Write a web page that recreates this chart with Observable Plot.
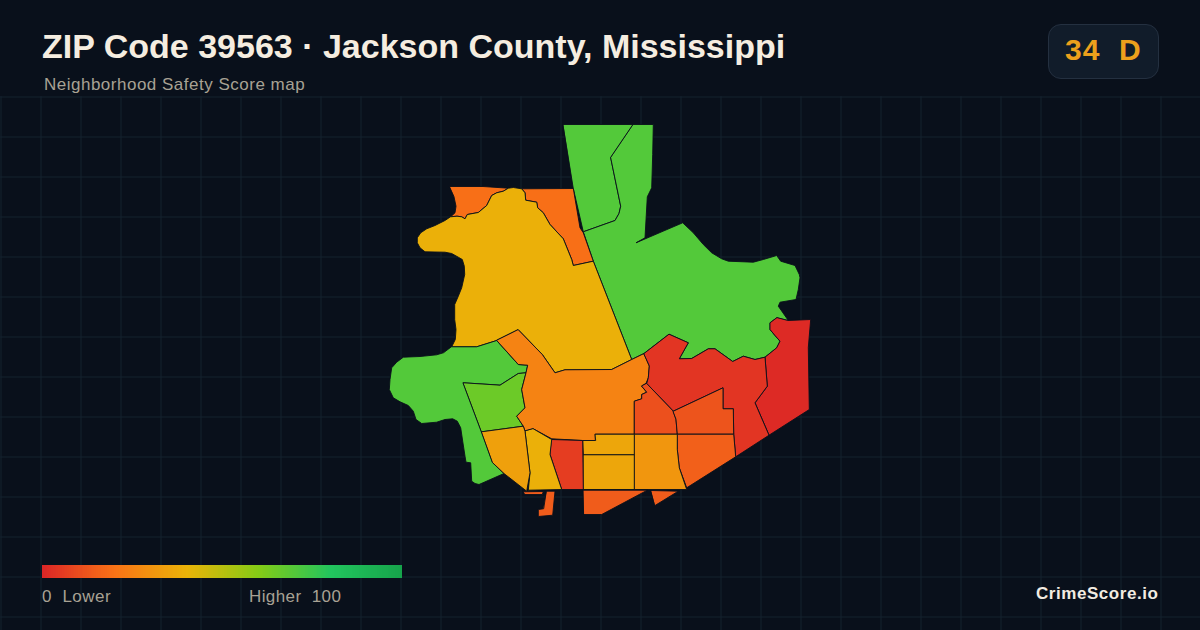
<!DOCTYPE html>
<html>
<head>
<meta charset="utf-8">
<script src="https://cdn.jsdelivr.net/npm/d3@7"></script>
<script src="https://cdn.jsdelivr.net/npm/@observablehq/plot@0.6"></script>
<style>
html,body{margin:0;padding:0;background:#09101b;width:1200px;height:630px;overflow:hidden;font-family:"Liberation Sans",Arial,sans-serif}
#page{position:relative;width:1200px;height:630px}
#head{height:96px;position:relative}
#map svg,#ramp svg{display:block;background:transparent}
.t{position:absolute;white-space:pre;line-height:1}
#title{left:42px;top:29px;font-size:34px;font-weight:700;color:#f5ede0}
#sub{left:44px;top:76px;font-size:17px;letter-spacing:.5px;color:#a8a294}
#badge{position:absolute;left:1048px;top:24px;width:109px;height:53px;border-radius:13px;background:#111c2a;border:1px solid #243040}
#score{left:1065px;top:35px;font-size:30px;font-weight:700;letter-spacing:1px;color:#eda01c}
#ramp{position:absolute;left:42px;top:565px;width:360px;height:13px}
#lo{left:42px;top:588px;font-size:17px;letter-spacing:.5px;color:#a8a294}
#hi{left:249px;top:588px;font-size:17px;letter-spacing:.4px;color:#a8a294}
#brand{left:1036px;top:585px;font-size:17px;font-weight:700;letter-spacing:.55px;color:#f2ece2}
</style>
</head>
<body>
<div id="page">
  <div id="head">
    <div class="t" id="title">ZIP Code 39563 · Jackson County, Mississippi</div>
    <div class="t" id="sub">Neighborhood Safety Score map</div>
    <div id="badge"></div>
    <div class="t" id="score">34  D</div>
  </div>
  <div id="map"></div>
  <div id="ramp"></div>
  <div class="t" id="lo">0  Lower</div>
  <div class="t" id="hi">Higher  100</div>
  <div class="t" id="brand">CrimeScore.io</div>
</div>
<script>
// colour ramp
const rampStops = [0, 20, 40, 60, 80, 100];
const rampColors = ["#dc2626", "#f97316", "#eab308", "#84cc16", "#22c55e", "#16a34a"];

// neighbourhood scores
const tractScores = {
  northStrip: 70, northEast: 70, northWest: 19, bigYellow: 39, westGreen: 70, lime: 65,
  centralOrange: 25, eastRed: 1, midRed: 4, redA: 11, redB: 12, orangeC: 15, amberD: 31,
  amberE: 36, amberF: 36, redG: 6, yellowH: 39, amberI: 34, stripJ: 14, pierK: 14, shoreL: 14, shoreM: 14
};

// outlines in map units
const northStrip = [[563.3,125],[633.3,125],[610.7,158.3],[620.7,206.7],[619,214],[615,221],[583.3,232.3],[573.3,189]];
const northEast = [[633.3,125],[653.3,125],[652.7,155],[651.7,188.3],[647.3,197.3],[645,238.3],[636,243.3],[682.7,223.3],[693.3,233.3],[703.3,245],[711.7,253.3],[721.7,259.3],[728.3,261.7],[753.3,262.7],[763.3,260],[776.7,256],[780.7,261.7],[795,266],[799.3,275],[800,278.3],[798.3,290],[796,300],[780,302.7],[778.3,306.7],[788.3,321],[776.7,318.3],[770,323.3],[770,330],[775,336],[780,341.7],[776.7,348.3],[765,357.7],[755,360],[743.3,356.7],[732.7,362],[715,349.3],[708.3,349.3],[691.7,359],[679.3,359.3],[688.3,343.3],[669,334.7],[644,354],[631.7,360],[593.3,261.7],[583.3,232.3],[615,221],[619,214],[620.7,206.7],[610.7,158.3]];
const northWest = [[449.7,187],[483,187],[508.3,188.7],[523,189.3],[573.3,189],[580,228.3],[583.3,233.3],[593.3,261.7],[573.3,266],[571.7,260],[563.3,239.3],[550,225],[543.3,213.3],[537.7,208.3],[536.7,202.7],[525.7,200.7],[525,193.3],[521.7,189.3],[513.3,188],[508.3,188.7],[503.3,191.7],[496.7,193.3],[491.7,196],[486.7,206],[478.3,213],[467.3,215],[465,219.3],[461.7,217.3],[457,216.7],[450.7,217.3],[455,213.3],[456,206.7],[454,197.3]];
const bigYellow = [[450.7,217.3],[457,216.7],[461.7,217.3],[465,219.3],[467.3,215],[478.3,213],[486.7,206],[491.7,196],[496.7,193.3],[503.3,191.7],[508.3,188.7],[513.3,188],[521.7,189.3],[525,193.3],[525.7,200.7],[536.7,202.7],[537.7,208.3],[543.3,213.3],[550,225],[563.3,239.3],[571.7,260],[573.3,266],[593.3,261.7],[631.7,360],[611.7,370],[565,370.3],[555,373.3],[542.3,355],[518.3,330.3],[496.7,341],[476.7,347.3],[451.7,347.3],[455.3,340],[456,330],[454.7,320],[454.7,305],[458.3,296.7],[461.7,288.3],[464.7,275],[464.3,266.7],[462.3,260],[458.3,257.7],[451.7,254],[445,252.7],[425,252.3],[420,248.3],[417.3,243.3],[417.3,238.3],[420.7,233.3],[426.7,229.3],[435,226],[445,221]];
const westGreen = [[451.7,347.3],[476.7,347.3],[496.7,341],[518.3,365],[527.7,365.7],[526,373.3],[518.3,374],[500,385.7],[490,385],[463.3,383.3],[481.7,432.3],[492.7,463.3],[504,474],[479,485],[475,484],[471.7,481.7],[470.7,463.3],[466,462.7],[465,456.7],[462.7,441.7],[460.7,428.3],[457.3,421.7],[452.7,419.3],[445,420],[436.7,422.7],[421.7,424],[416,420],[413.3,411.7],[408.3,406],[400,402.3],[393.3,398.3],[389.3,390],[390,380],[391.7,368.3],[396.7,362.7],[403.3,357.7],[420,357],[436.7,355.3],[443.3,353.3]];
const lime = [[463.3,383.3],[490,385],[500,385.7],[518.3,374],[526,373.3],[521.7,390],[525,408.3],[516.7,416.7],[523.3,426.7],[481.7,432.3]];
const centralOrange = [[518.3,330.3],[542.3,355],[555,373.3],[565,370.3],[611.7,370],[631.7,360],[644,354],[649.3,366.7],[648.3,378.3],[646,384],[641.7,386.7],[646.7,392.7],[641.7,395],[641.7,399.3],[634.3,401.7],[634.3,434.7],[595.3,434.7],[595.3,441],[582.7,441],[551.7,439.3],[533.3,429.3],[525,431.7],[523.3,426.7],[516.7,416.7],[525,408.3],[521.7,390],[526,373.3],[527.7,365.7],[518.3,365],[496.7,341]];
const eastRed = [[788.3,321],[810.7,320],[808.3,348],[809.3,410],[769,435.7],[755,403.3],[767.3,386.7],[765,357.7],[776.7,348.3],[780,341.7],[775,336],[770,330],[770,323.3],[776.7,318.3]];
const midRed = [[644,354],[669,334.7],[688.3,343.3],[679.3,359.3],[691.7,359],[708.3,349.3],[715,349.3],[732.7,362],[743.3,356.7],[755,360],[765,357.7],[767.3,386.7],[755,403.3],[769,435.7],[735.7,457.3],[733.7,434.7],[733.3,409.3],[723,409.3],[723,388.3],[673.3,411.7],[646.7,384],[648.3,378.3],[649.3,366.7]];
const redA = [[646.7,384],[673.3,411.7],[676,420],[677.3,434.7],[634.3,434.7],[634.3,401.7],[641.7,399.3],[641.7,395],[646.7,392.7],[641.7,386.7]];
const redB = [[673.3,411.7],[723,388.3],[723,409.3],[733.3,409.3],[733.7,434.7],[677.3,434.7],[676,420]];
const orangeC = [[677.3,434.7],[733.7,434.7],[735.7,457.3],[686.7,488.3],[679.3,468.3],[677.3,450]];
const amberD = [[634.3,434.7],[677.3,434.7],[677.3,450],[679.3,468.3],[686.7,490],[634.3,490]];
const amberE = [[595.3,434.7],[634.3,434.7],[634.3,455.3],[583.3,455.3],[582.7,441],[595.3,441]];
const amberF = [[583.3,455.3],[634.3,455.3],[634.3,490],[583.3,490]];
const redG = [[551.7,440],[582.7,441],[583.3,490],[561.7,490],[550,455]];
const yellowH = [[533.3,429.3],[551.7,440],[550,455],[561.7,490],[528.3,490.7],[530,473.3],[525,431.7]];
const amberI = [[481.7,432.3],[523.3,426.7],[525,431.7],[530,473.3],[526.7,491.7],[504,474],[492.7,463.3]];
const stripJ = [[523.3,492.3],[543.3,492],[542.3,495],[525,495]];
const pierK = [[546.7,491.7],[555,491.7],[552.7,515.7],[538.3,517],[538.3,510],[543.3,509.3]];
const shoreL = [[583.3,490.7],[647.3,490.7],[601.7,515],[584,515]];
const shoreM = [[651,491],[678.3,491.7],[655,506]];

// background graticule
const gridX = d3.range(0, 1201, 40);
const gridY = d3.range(96, 630, 40);

const outlines = {northStrip,northEast,northWest,bigYellow,westGreen,lime,centralOrange,eastRed,midRed,redA,redB,orangeC,amberD,amberE,amberF,redG,yellowH,amberI,stripJ,pierK,shoreL,shoreM};
const features = Object.keys(outlines).map(name => ({
  type: "Feature",
  properties: {name, score: tractScores[name]},
  geometry: {type: "Polygon", coordinates: [[...outlines[name], outlines[name][0]]]}
}));
const grid = {type: "MultiLineString", coordinates: [
  ...gridX.map(x => [[x + .5, 96], [x + .5, 630]]),
  ...gridY.map(y => [[0, y + .5], [1200, y + .5]])
]};

const colorScale = {type: "linear", domain: rampStops, range: rampColors, interpolate: "rgb"};

document.getElementById("map").append(Plot.plot({
  width: 1200, height: 534, margin: 0,
  projection: d3.geoIdentity().translate([0, -96]),
  color: colorScale,
  marks: [
    Plot.geo(grid, {stroke: "#15232f", strokeWidth: 1, fill: "none"}),
    Plot.geo(features, {fill: d => d.properties.score, stroke: "#09101b", strokeWidth: 0.9, strokeLinejoin: "round", dx: -0.5, dy: -1})
  ]
}));

const rampSteps = d3.range(0, 100, 0.5);
document.getElementById("ramp").append(Plot.plot({
  width: 360, height: 13, margin: 0,
  x: {domain: [0, 100], axis: null},
  color: colorScale,
  marks: [Plot.barX(rampSteps, {x1: d => d, x2: d => d + 0.5, fill: d => d, shapeRendering: "crispEdges"})]
}));
</script>
</body>
</html>
